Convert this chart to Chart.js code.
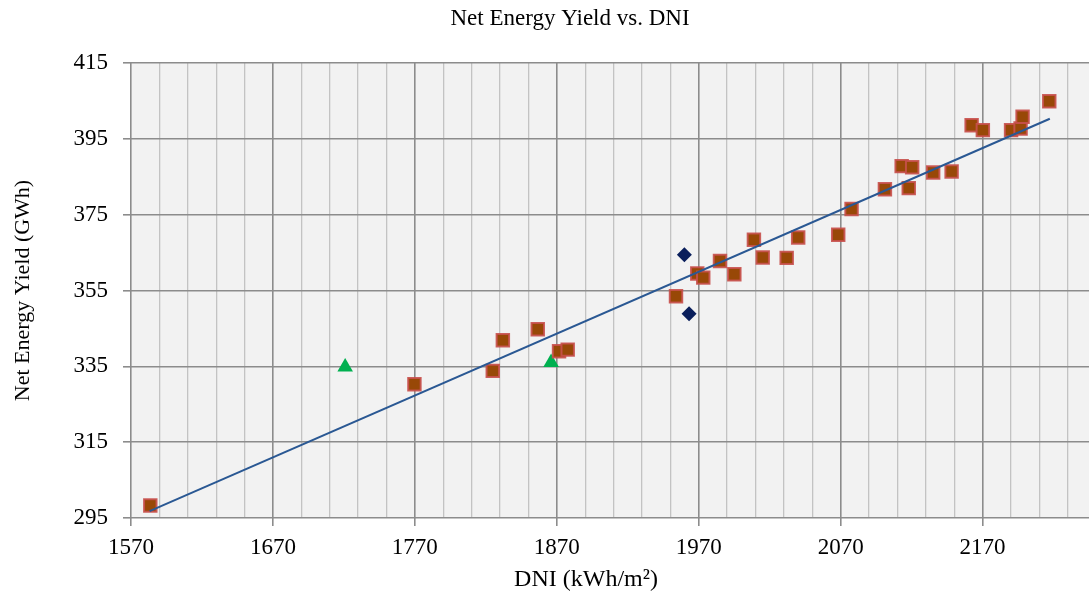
<!DOCTYPE html>
<html>
<head>
<meta charset="utf-8">
<script src="https://cdn.jsdelivr.net/npm/chart.js@4/dist/chart.umd.min.js"></script>
<style>
  html, body { margin: 0; padding: 0; background: #fff; overflow: hidden; }
  #wrap { width: 1089px; height: 597px; position: relative; }
</style>
</head>
<body>
<div id="wrap"><canvas id="c"></canvas></div>
<script>
// Werte
const squareX = [1583.6, 1769.7, 1824.9, 1832.0, 1856.6, 1871.6, 1877.7, 1954.0, 1969.0, 1973.2,
                 1985.0, 1995.1, 2008.9, 2015.1, 2032.0, 2040.1, 2068.3, 2077.7, 2101.2, 2113.0,
                 2120.4, 2118.0, 2135.2, 2148.2, 2162.3, 2170.2, 2190.1, 2196.8, 2198.2, 2217.0];
const squareY = [298.3, 330.3, 333.8, 341.9, 344.8, 339.0, 339.4, 353.5, 359.5, 358.4,
                 362.8, 359.3, 368.4, 363.7, 363.6, 369.0, 369.7, 376.5, 381.7, 387.8,
                 387.5, 382.0, 386.1, 386.4, 398.6, 397.3, 397.3, 397.7, 400.8, 404.9];
const triangleX = [1720.9, 1866.0];
const triangleY = [334.8, 336.0];
const diamondX = [1959.9, 1963.2];
const diamondY = [364.4, 348.9];
const trendX = [1583.1, 2217.4];
const trendY = [296.8, 400.3];

// Achsen
const xMajorTicks = [1570, 1670, 1770, 1870, 1970, 2070, 2170];
const xMinorStep = 20;
const xMin = 1570, xMax = 2245;
const yTicks = [295, 315, 335, 355, 375, 395, 415];

const toPoints = (xs, ys) => xs.map((x, i) => ({ x: x, y: ys[i] }));

const schrift = "'Liberation Serif', 'Times New Roman', serif";

// grauer Hintergrund der Zeichenfläche
const flaechePlugin = {
    id: "flaeche",
    beforeDraw: (chart) => {
        const a = chart.chartArea;
        chart.ctx.save();
        chart.ctx.fillStyle = "#f2f2f2";
        chart.ctx.fillRect(a.left, a.top, a.right - a.left, a.bottom - a.top);
        chart.ctx.restore();
    }
};

// Titel + x-Achsentitel an feste Stelle (wie im Original)
const titelPlugin = {
    id: "titel",
    afterDraw: (chart) => {
        const ctx = chart.ctx;
        ctx.save();
        ctx.fillStyle = "#000";
        ctx.textAlign = "center";
        ctx.textBaseline = "middle";
        ctx.font = "23px " + schrift;
        ctx.fillText("Net Energy Yield vs. DNI", 570, 19);
        ctx.font = "24px " + schrift;
        ctx.fillText("DNI (kWh/m²)", 586, 580);
        ctx.restore();
    }
};

const isMajor = (v) => xMajorTicks.includes(v);

new Chart(document.getElementById("c"), {
    type: "scatter",
    data: {
        datasets: [
            {
                label: "Trend",
                data: toPoints(trendX, trendY),
                showLine: true,
                borderColor: "#2a5893",
                borderWidth: 2,
                pointRadius: 0,
                order: 0
            },
            {
                label: "Serie 1",
                data: toPoints(squareX, squareY),
                pointStyle: "rect",
                pointRadius: 8.8,
                backgroundColor: "#984807",
                borderColor: "rgba(200,80,77,0.9)",
                borderWidth: 2,
                order: 1
            },
            {
                label: "Serie 2",
                data: toPoints(triangleX, triangleY),
                pointStyle: "triangle",
                pointRadius: 9,
                backgroundColor: "#00b050",
                borderWidth: 0,
                order: 1
            },
            {
                label: "Serie 3",
                data: toPoints(diamondX, diamondY),
                pointStyle: "rectRot",
                pointRadius: 7.5,
                backgroundColor: "#0a1f5c",
                borderWidth: 0,
                order: 1
            }
        ]
    },
    options: {
        responsive: true,
        maintainAspectRatio: false,
        animation: false,
        layout: { autoPadding: false, padding: { top: 63, right: 0, bottom: 0, left: 0 } },
        plugins: {
            legend: { display: false },
            tooltip: { enabled: false },
            title: { display: false }
        },
        scales: {
            x: {
                type: "linear",
                min: xMin,
                max: xMax,
                afterBuildTicks: (scale) => {
                    const t = [];
                    for (let v = xMin; v < xMax; v += xMinorStep) t.push({ value: v });
                    scale.ticks = t;
                },
                afterFit: (scale) => {
                    scale.height = 79;
                    scale.paddingRight = 0; // Zeichenfläche bis zum Rand (Bild ist abgeschnitten)
                },
                ticks: {
                    autoSkip: false,
                    maxRotation: 0,
                    padding: 8,
                    color: "#000",
                    font: { family: schrift, size: 23 },
                    callback: (v) => (isMajor(v) ? String(v) : "")
                },
                grid: {
                    color: (c) => (isMajor(c.tick.value) ? "#8c8c8c" : "#c3c3c3"),
                    lineWidth: (c) => (isMajor(c.tick.value) ? 1.6 : 1.3),
                    tickLength: 8,
                    tickColor: (c) => (isMajor(c.tick.value) ? "#8c8c8c" : "rgba(0,0,0,0)")
                },
                border: { display: false }
            },
            y: {
                type: "linear",
                min: yTicks[0],
                max: yTicks[yTicks.length - 1],
                afterBuildTicks: (scale) => { scale.ticks = yTicks.map(v => ({ value: v })); },
                afterFit: (scale) => { scale.width = 131; },
                ticks: {
                    padding: 15,
                    color: "#000",
                    font: { family: schrift, size: 23 }
                },
                grid: {
                    color: "#8c8c8c",
                    lineWidth: 1.6,
                    tickLength: 8
                },
                border: { display: false },
                title: {
                    display: true,
                    text: "Net Energy Yield (GWh)",
                    color: "#000",
                    font: { family: schrift, size: 22 },
                    padding: { top: 10, bottom: 0 }
                }
            }
        }
    },
    plugins: [flaechePlugin, titelPlugin]
});
</script>
</body>
</html>
